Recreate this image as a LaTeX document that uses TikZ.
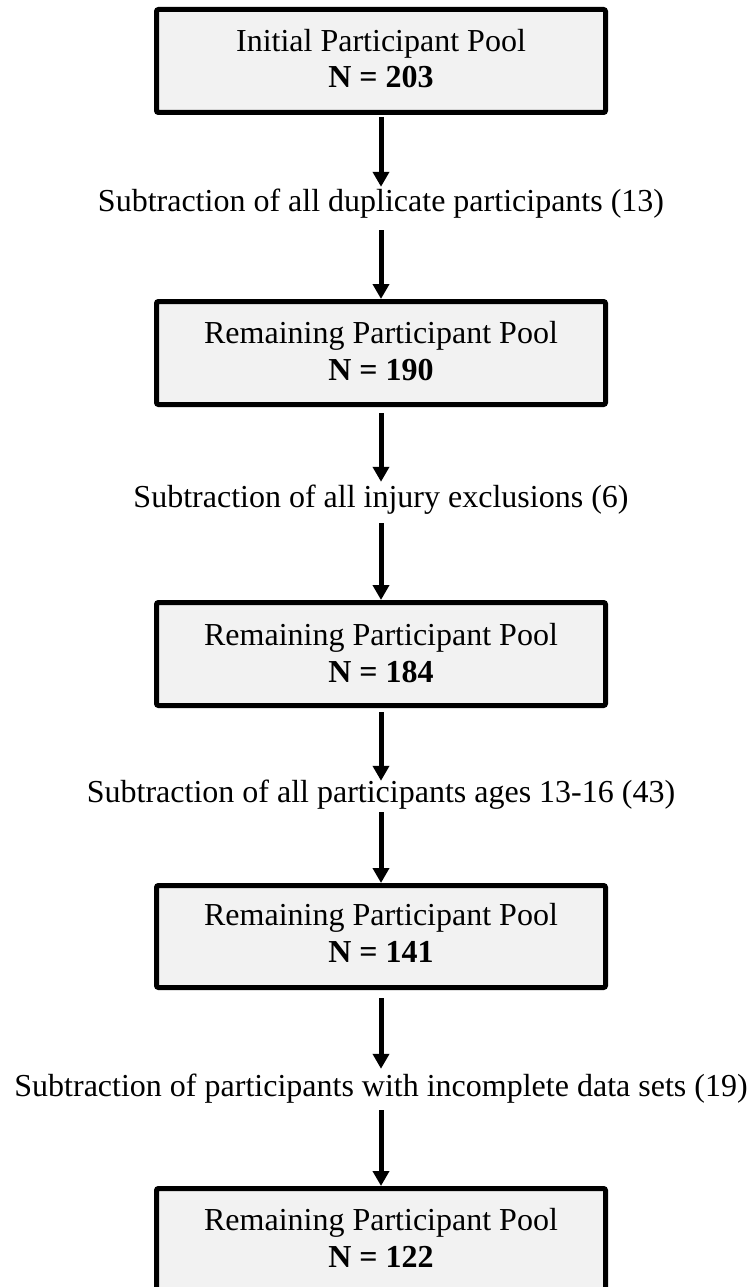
\documentclass[tikz,border=0pt]{standalone}
\usepackage{fontspec}
\setmainfont{Liberation Serif}
\usetikzlibrary{arrows.meta}
\definecolor{boxfill}{HTML}{F2F2F2}
\begin{document}
\begin{tikzpicture}[x=1pt,y=1pt,
  font=\fontsize{32pt}{38pt}\selectfont,
  poolbox/.style={draw=black, line width=5pt, fill=boxfill, rounded corners=2pt,
    minimum width=449pt, minimum height=103pt, inner sep=0pt},
  txt/.style={anchor=base, inner sep=0pt},
  steplabel/.style={anchor=base, inner sep=0pt, text height=22pt, text depth=7pt},
  flow/.style={line width=5pt, -{Triangle[length=15pt,width=16pt]}}
]
\useasboundingbox (0,0) rectangle (751,-1287);

% boxes
\node[poolbox] (b1) at (381,-61) {};
\node[poolbox] (b2) at (381,-353) {};
\node[poolbox] (b3) at (381,-654) {};
\node[poolbox, minimum height=102pt] (b4) at (381,-936.5) {};
\node[poolbox] (b5) at (381,-1240) {};

% box texts
\node[txt] (t1a) at (381,-52) {Initial Participant Pool};
\node[txt] (t1b) at (381,-88) {\textbf{N = 203}};
\node[txt] (t2a) at (381,-343) {Remaining Participant Pool};
\node[txt] (t2b) at (381,-380) {\textbf{N = 190}};
\node[txt] (t3a) at (381,-645) {Remaining Participant Pool};
\node[txt] (t3b) at (381,-682) {\textbf{N = 184}};
\node[txt] (t4a) at (381,-925) {Remaining Participant Pool};
\node[txt] (t4b) at (381,-962) {\textbf{N = 141}};
\node[txt] (t5a) at (381,-1230) {Remaining Participant Pool};
\node[txt] (t5b) at (381,-1267) {\textbf{N = 122}};

% step labels
\node[steplabel] (l1) at (381,-211) {Subtraction of all duplicate participants (13)};
\node[steplabel] (l2) at (381,-507) {Subtraction of all injury exclusions (6)};
\node[steplabel] (l3) at (381,-802) {Subtraction of all participants ages 13-16 (43)};
\node[steplabel] (l4) at (381,-1096) {Subtraction of participants with incomplete data sets (19)};

% connectors
\draw[flow, shorten <=2pt, shorten >=2pt] (b1.south) -- (l1.north);
\draw[flow, shorten <=12pt] (l1.south) -- (b2.north);
\draw[flow, shorten <=6pt, shorten >=3pt] (b2.south) -- (l2.north);
\draw[flow, shorten <=9pt] (l2.south) -- (b3.north);
\draw[flow, shorten <=4pt, shorten >=-1pt] (b3.south) -- (l3.north);
\draw[flow, shorten <=3pt] (l3.south) -- (b4.north);
\draw[flow, shorten <=8pt, shorten >=5pt] (b4.south) -- (l4.north);
\draw[flow, shorten <=7pt] (l4.south) -- (b5.north);
\end{tikzpicture}
\end{document}
